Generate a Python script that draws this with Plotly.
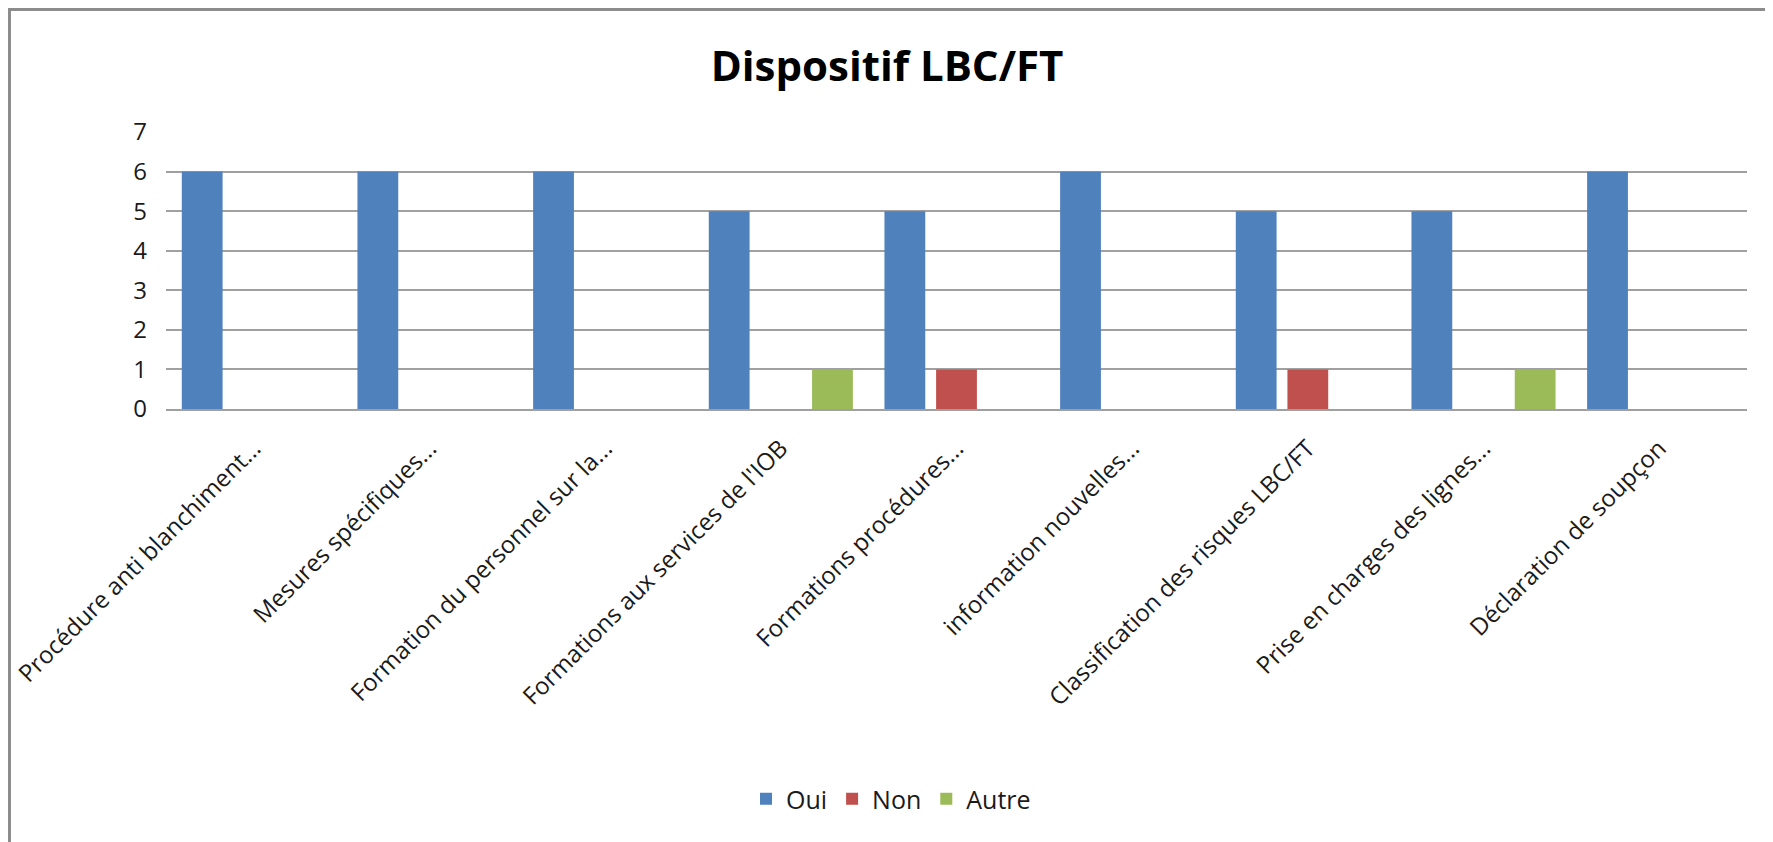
"""
Dispositif LBC/FT - grouped bar chart (Oui / Non / Autre)
"""

import plotly.graph_objects as go

categories = [
    "Procédure anti blanchiment...",
    "Mesures spécifiques...",
    "Formation du personnel sur la...",
    "Formations aux services de l'IOB",
    "Formations procédures...",
    "information nouvelles...",
    "Classification des risques LBC/FT",
    "Prise en charges des lignes...",
    "Déclaration de soupçon",
]

oui   = [6, 6, 6, 5, 5, 6, 5, 5, 6]
non   = [0, 0, 0, 0, 1, 0, 1, 0, 0]
autre = [0, 0, 0, 1, 0, 0, 0, 1, 0]

SERIES = [
    ("Oui",   oui,   "#4F81BD"),
    ("Non",   non,   "#C0504D"),
    ("Autre", autre, "#9BBB59"),
]

FONT = "Open Sans, Noto Sans, sans-serif"

# the page body adds an 8px margin; positions are shifted back by 8px and
# the figure keeps the full window size so its own edges fall off-screen
OFF = 8
W, H = 1773, 842
# plot area edges in reference pixels
X0, X1, Y0, Y1 = 166, 1747, 132, 409
L, R = X0 - OFF, W - (X1 - OFF)
T, B = Y0 - OFF, H - (Y1 - OFF)
PW, PH = W - L - R, H - T - B


def py(ref_y):
    """reference pixel y -> paper y"""
    return (Y1 - ref_y) / PH


def px(ref_x):
    """reference pixel x -> paper x"""
    return (ref_x - X0) / PW


fig = go.Figure()
for name, vals, colour in SERIES:
    fig.add_trace(go.Bar(
        x=categories, y=vals, name=name,
        marker=dict(color=colour, line=dict(width=0)),
    ))

fig.update_layout(
    width=W, height=H,
    margin=dict(l=L, r=R, t=T, b=B, autoexpand=False),
    paper_bgcolor="white", plot_bgcolor="white",
    barmode="group", bargap=0.118, bargroupgap=0.21,
    font=dict(family=FONT, color="#1a1a1a", size=23),
    title=dict(
        text="<b>Dispositif LBC/FT</b>",
        x=px(887), xref="paper", xanchor="center",
        y=1 - (66 - OFF) / H, yref="container", yanchor="middle",
        font=dict(family=FONT, size=42, color="#000"),
    ),
    legend=dict(
        orientation="h", x=px(891), xanchor="center",
        y=py(799), yanchor="middle",
        font=dict(size=25), itemwidth=30, traceorder="normal",
    ),
    xaxis=dict(
        tickangle=-45, showgrid=False, ticks="", automargin=False,
        showline=True, linecolor="#a0a0a0", linewidth=1.5,
        tickfont=dict(size=24), ticklabelstandoff=14,
    ),
    yaxis=dict(
        range=[0, 7], dtick=1, showgrid=True, automargin=False,
        gridcolor="#a0a0a0", gridwidth=1.5,
        zeroline=False, ticks="", ticklabelstandoff=18,
        tickfont=dict(size=24),
    ),
)

# outer chart border (top and left edges visible in the reference)
fig.add_shape(type="line", xref="paper", yref="paper",
              x0=px(OFF), x1=px(1790), y0=py(OFF + 1.5), y1=py(OFF + 1.5),
              line=dict(color="#8c8c8c", width=3))
fig.add_shape(type="line", xref="paper", yref="paper",
              x0=px(OFF + 1.5), x1=px(OFF + 1.5), y0=py(OFF), y1=py(860),
              line=dict(color="#8c8c8c", width=3))

fig.write_html("out.html")
